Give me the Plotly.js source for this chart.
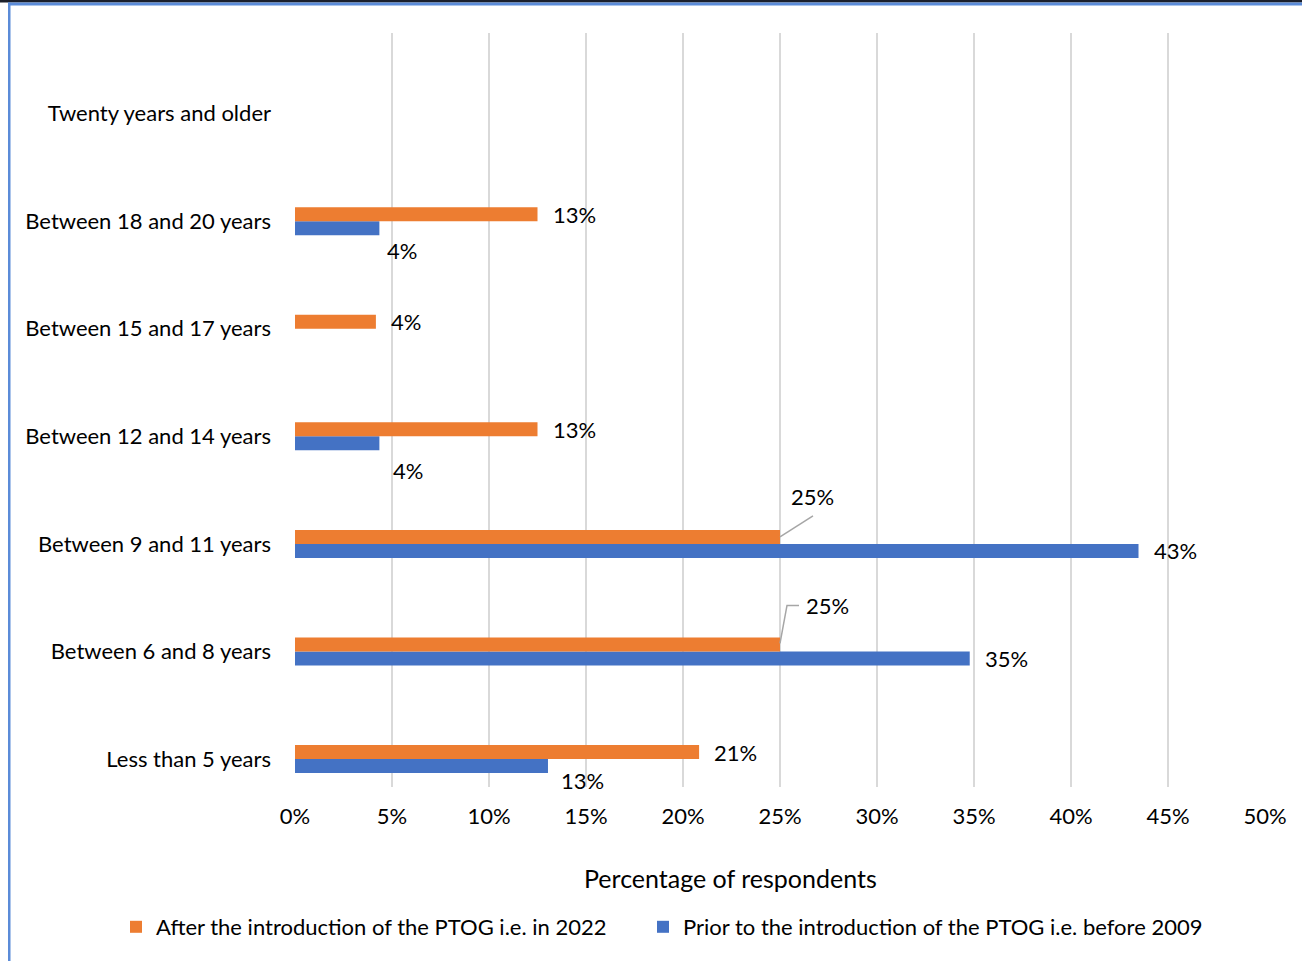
<!DOCTYPE html>
<html>
<head>
<meta charset="utf-8">
<script src="https://cdn.plot.ly/plotly-3.0.1.min.js"></script>
<style>
  html, body { margin: 0; padding: 0; background: #ffffff; }
  #chart { width: 1302px; height: 961px; }
</style>
</head>
<body>
<div id="chart"></div>
<script>
// Age groups, listed from the bottom of the chart to the top
const categories = [
  "Less than 5 years",
  "Between 6 and 8 years",
  "Between 9 and 11 years",
  "Between 12 and 14 years",
  "Between 15 and 17 years",
  "Between 18 and 20 years",
  "Twenty years and older"
];

// Share of respondents (%) per age group
const after2022 = [20.83, 25, 25, 12.5, 4.17, 12.5, null];
const before2009 = [13.04, 34.78, 43.48, 4.35, null, 4.35, null];

const seriesNames = [
  "After the introduction of the PTOG i.e. in 2022",
  "Prior to the introduction of the PTOG i.e. before 2009"
];

const xTickValues = [0, 5, 10, 15, 20, 25, 30, 35, 40, 45, 50];
const xAxisTitle = "Percentage of respondents";

// Label placement (pixels): [dx from bar end, dy downward from bar centre]
const afterLabelOffsets = [[13, 0], [24, -39], [9, -40], [13, 0], [13, 0], [13, 0], [0, 0]];
const beforeLabelOffsets = [[11, 14], [13, 0], [13, 0], [12, 27], [0, 0], [6, 22], [0, 0]];

const ORANGE = "#ED7D31";
const BLUE = "#4472C4";
const FONT = "Lato, 'Open Sans', sans-serif";
const FONT_SIZE = 22;
const TEXT = "#000000";

// Plot area in page pixels
const W = 1302, H = 961;
const M = { l: 295, r: 37, t: 33, b: 174 };
const plotW = W - M.l - M.r;
const plotH = H - M.t - M.b;
const px2paperX = px => (px - M.l) / plotW;
const px2paperY = py => (H - M.b - py) / plotH;

const BAR_HALF = 7; // half the bar thickness, in pixels

const traces = [
  {
    type: "bar",
    orientation: "h",
    name: seriesNames[1],
    y: categories,
    x: before2009,
    marker: { color: BLUE, line: { width: 0 } },
    legend: "legend2",
    hoverinfo: "x+y"
  },
  {
    type: "bar",
    orientation: "h",
    name: seriesNames[0],
    y: categories,
    x: after2022,
    marker: { color: ORANGE, line: { width: 0 } },
    legend: "legend",
    hoverinfo: "x+y"
  }
];

function valueLabels(values, offsets, barShift) {
  const out = [];
  values.forEach((v, i) => {
    if (v === null || v === undefined) return;
    out.push({
      x: v,
      y: categories[i],
      xref: "x",
      yref: "y",
      text: Math.round(v) + "%",
      showarrow: false,
      xanchor: "left",
      yanchor: "middle",
      xshift: offsets[i][0],
      yshift: barShift - offsets[i][1],
      font: { family: FONT, size: FONT_SIZE, color: TEXT }
    });
  });
  return out;
}

const annotations = []
  .concat(valueLabels(after2022, afterLabelOffsets, BAR_HALF))
  .concat(valueLabels(before2009, beforeLabelOffsets, -BAR_HALF))
  .concat([{
    xref: "paper", yref: "paper",
    x: px2paperX(730), y: px2paperY(878),
    xanchor: "center", yanchor: "middle",
    text: xAxisTitle,
    showarrow: false,
    font: { family: FONT, size: 25, color: TEXT }
  }]);

// Leader lines for the two displaced 25% labels (pixel paths anchored at the bar end)
const i68 = categories.indexOf("Between 6 and 8 years");
const i911 = categories.indexOf("Between 9 and 11 years");
const leader = (xv, yi, path) => ({
  type: "path",
  xref: "x", yref: "y",
  xsizemode: "pixel", ysizemode: "pixel",
  xanchor: xv, yanchor: yi,
  path: path,
  line: { color: "#A6A6A6", width: 1.5 },
  layer: "above"
});

const shapes = [
  leader(after2022[i911], i911, "M0,7L33,28"),
  leader(after2022[i68], i68, "M0,8L7,46L19,46"),
  // chart frame
  { type: "rect", xref: "paper", yref: "paper",
    x0: px2paperX(0), x1: px2paperX(W), y0: px2paperY(2.5), y1: px2paperY(0),
    fillcolor: "#1B1F2B", line: { width: 0 }, layer: "above" },
  { type: "rect", xref: "paper", yref: "paper",
    x0: px2paperX(8), x1: px2paperX(W), y0: px2paperY(5.5), y1: px2paperY(2.5),
    fillcolor: "#5B8BD8", line: { width: 0 }, layer: "above" },
  { type: "rect", xref: "paper", yref: "paper",
    x0: px2paperX(8), x1: px2paperX(10.5), y0: px2paperY(H), y1: px2paperY(2.5),
    fillcolor: "#5B8BD8", line: { width: 0 }, layer: "above" }
];

const legendBase = {
  orientation: "h",
  xref: "paper", yref: "paper",
  y: px2paperY(927),
  xanchor: "left", yanchor: "middle",
  font: { family: FONT, size: FONT_SIZE, color: TEXT },
  bgcolor: "rgba(0,0,0,0)"
};

const layout = {
  width: W,
  height: H,
  margin: M,
  paper_bgcolor: "#FFFFFF",
  plot_bgcolor: "#FFFFFF",
  barmode: "group",
  bargap: 0.74,
  bargroupgap: 0,
  font: { family: FONT, size: FONT_SIZE, color: TEXT },
  showlegend: true,
  legend: Object.assign({}, legendBase, { x: px2paperX(116) }),
  legend2: Object.assign({}, legendBase, { x: px2paperX(643) }),
  xaxis: {
    range: [0, 50],
    tickmode: "array",
    tickvals: xTickValues,
    ticktext: xTickValues.map(v => v + "%"),
    showgrid: true,
    gridcolor: "#D9D9D9",
    gridwidth: 1.5,
    zeroline: false,
    showline: false,
    ticks: "",
    ticklabelstandoff: 14,
    tickfont: { family: FONT, size: FONT_SIZE, color: TEXT },
    fixedrange: true
  },
  yaxis: {
    type: "category",
    categoryorder: "array",
    categoryarray: categories,
    range: [-0.26, 6.75],
    showgrid: false,
    zeroline: false,
    showline: false,
    ticks: "",
    ticklabelstandoff: 23,
    tickfont: { family: FONT, size: FONT_SIZE, color: TEXT },
    fixedrange: true
  },
  annotations: annotations,
  shapes: shapes
};

Plotly.newPlot("chart", traces, layout, { displayModeBar: false, staticPlot: true });
</script>
</body>
</html>
